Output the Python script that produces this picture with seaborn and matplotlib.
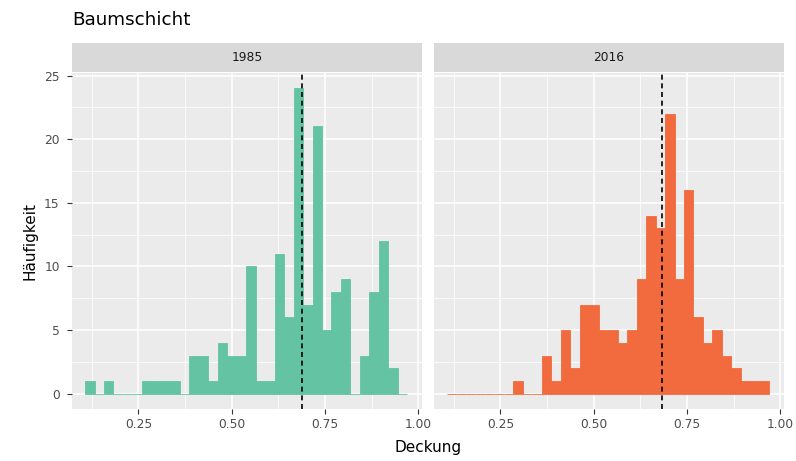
import numpy as np
import pandas as pd
import matplotlib
matplotlib.use("Agg")
import matplotlib.pyplot as plt
import seaborn as sns

# ---------------- data ----------------
years = ["1985", "2016"]
bin_start = 0.107
bin_width = 0.0254
counts_1985 = [1, 0, 1, 0, 0, 0, 1, 1, 1, 1, 0, 3, 3, 1, 4, 3, 3, 10, 1, 1,
               11, 6, 24, 7, 21, 5, 8, 9, 0, 3, 8, 12, 2, 0]
counts_2016 = [0, 0, 0, 0, 0, 0, 0, 1, 0, 0, 3, 1, 5, 2, 7, 7, 5, 5, 4, 5,
               9, 14, 13, 22, 9, 16, 6, 4, 5, 3, 2, 1, 1, 1]
mean_lines = [0.688, 0.682]
colors = ["#63C3A2", "#F26B3F"]
x_ticks = [0.25, 0.50, 0.75, 1.00]
x_tick_labels = ["0.25", "0.50", "0.75", "1.00"]
y_ticks = [0, 5, 10, 15, 20, 25]
title = "Baumschicht"
x_label = "Deckung"
y_label = "Häufigkeit"

n_bins = len(counts_1985)
edges = bin_start + bin_width * np.arange(n_bins + 1)
centers = (edges[:-1] + edges[1:]) / 2
df = pd.DataFrame({
    "Deckung": np.concatenate([centers, centers]),
    "n": counts_1985 + counts_2016,
    "Jahr": [years[0]] * n_bins + [years[1]] * n_bins,
})

sns.set_style("white")
plt.rcParams["font.family"] = ["DejaVu Sans"]

W, H = 796, 461
fig = plt.figure(figsize=(W / 100, H / 100), dpi=100)

def fx(p):
    return p / W

def fy(p):
    return 1 - p / H

panel_top, panel_bot = 73, 409
panels = [(72, 422), (434, 784)]
strip_top = 43

for i, (yr, (l, r)) in enumerate(zip(years, panels)):
    ax = fig.add_axes([fx(l), fy(panel_bot), (r - l) / W, (panel_bot - panel_top) / H])
    ax.set_facecolor("#EBEBEB")
    sub = df[df["Jahr"] == yr]
    sns.histplot(data=sub, x="Deckung", weights="n", binwidth=bin_width,
                 binrange=(float(edges[0]), float(edges[-1])), ax=ax,
                 color=colors[i], alpha=1, edgecolor=colors[i], linewidth=0.6)
    ax.axvline(mean_lines[i], color="black", ls=(0, (3, 2.2)), lw=1.2, zorder=5)
    ax.set_xlim(0.072, 1.010)
    ax.set_ylim(-1.2, 25.2)
    ax.set_xticks(x_ticks)
    ax.set_xticklabels(x_tick_labels)
    ax.set_xticks([0.125, 0.375, 0.625, 0.875], minor=True)
    ax.set_yticks(y_ticks)
    ax.set_yticks([2.5, 7.5, 12.5, 17.5, 22.5], minor=True)
    ax.grid(True, which="major", color="white", lw=1.1)
    ax.grid(True, which="minor", color="white", lw=0.55)
    ax.set_axisbelow(True)
    for s in ax.spines.values():
        s.set_visible(False)
    ax.tick_params(axis="x", which="major", length=3.8, width=0.8,
                   color="#333333", labelcolor="#4D4D4D", labelsize=8.8, pad=3,
                   bottom=True)
    ax.tick_params(axis="y", which="major", length=3.8, width=0.8,
                   color="#333333", labelcolor="#4D4D4D", labelsize=8.8, pad=5,
                   left=(i == 0))
    ax.tick_params(axis="both", which="minor", length=0)
    if i > 0:
        ax.set_yticklabels([])
    ax.set_xlabel("")
    ax.set_ylabel("")

    sax = fig.add_axes([fx(l), fy(panel_top - 1), (r - l) / W, (panel_top - 1 - strip_top) / H])
    sax.set_facecolor("#D9D9D9")
    sax.set_xticks([])
    sax.set_yticks([])
    for s in sax.spines.values():
        s.set_visible(False)
    sax.text(0.5, 0.5, yr, ha="center", va="center", fontsize=8.8,
             color="#1A1A1A", transform=sax.transAxes)

fig.text(fx(72), fy(20), title, ha="left", va="center", fontsize=13.2, color="black")
fig.text(fx((72 + 784) / 2), fy(447), x_label, ha="center", va="center",
         fontsize=11, color="black")
fig.text(fx(30), fy((panel_top + panel_bot) / 2), y_label, ha="center", va="center",
         rotation=90, fontsize=11, color="black")

fig.savefig("out.png", dpi=100)
